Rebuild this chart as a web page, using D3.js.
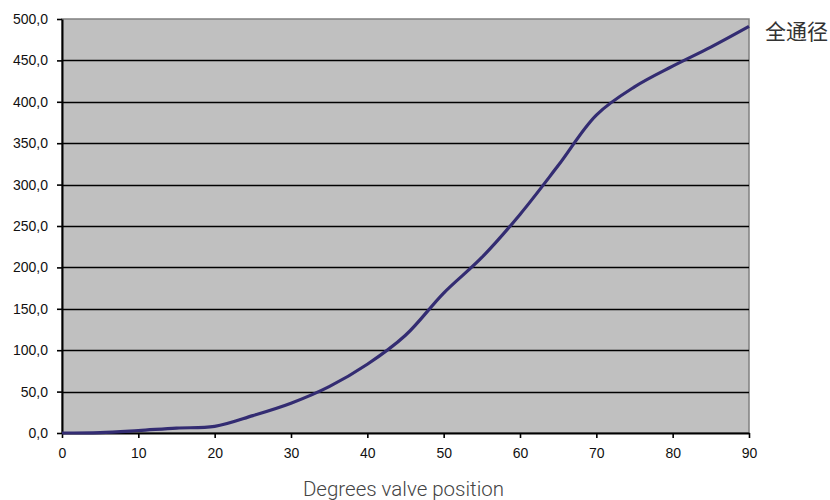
<!DOCTYPE html>
<html>
<head>
<meta charset="utf-8">
<script src="https://cdn.jsdelivr.net/npm/d3@7"></script>
<style>
  body { margin: 0; background: #fff; }
  svg { display: block; }
</style>
</head>
<body>
<div id="chart"></div>
<script>
// valve position (degrees) and flow values
const degrees = [0, 5, 10, 15, 20, 25, 30, 35, 40, 45, 50, 55, 60, 65, 70, 75, 80, 85, 90];
const flow = [0, 0.5, 3, 6, 8, 21, 36, 56, 83, 118, 169, 212, 264, 323, 384, 418, 443, 466, 491];
const xTicks = [0, 10, 20, 30, 40, 50, 60, 70, 80, 90];
const yTicks = [0, 50, 100, 150, 200, 250, 300, 350, 400, 450, 500];
const seriesName = "全通径";
const xTitle = "Degrees valve position";

const width = 830, height = 500;
const margin = {top: 19, right: 81, bottom: 67, left: 62};

const svg = d3.select("#chart")
  .append("svg")
    .attr("width", width)
    .attr("height", height);

const x = d3.scaleLinear()
  .domain([0, 90])
  .range([margin.left, width - margin.right]);

const y = d3.scaleLinear()
  .domain([0, 500])
  .range([height - margin.bottom, margin.top]);

// plot background
svg.append("rect")
  .attr("x", x(0))
  .attr("y", y(500))
  .attr("width", x(90) - x(0))
  .attr("height", y(0) - y(500))
  .attr("fill", "#c0c0c0")
  .attr("stroke", "#808080")
  .attr("stroke-width", 1.5);

// gridlines
svg.append("g")
  .selectAll("line")
  .data(yTicks.filter(d => d > 0 && d < 500))
  .join("line")
    .attr("x1", x(0))
    .attr("x2", x(90))
    .attr("y1", d => Math.round(y(d)) + 0.5)
    .attr("y2", d => Math.round(y(d)) + 0.5)
    .attr("stroke", "#000")
    .attr("stroke-width", 1.6);

const fmt = d => d3.format(".1f")(d).replace(".", ",");

const xAxis = g => g
  .attr("transform", `translate(0, ${y(0)})`)
  .call(d3.axisBottom(x).tickValues(xTicks).tickSize(5).tickSizeOuter(0).tickPadding(10))
  .call(g => g.select(".domain").attr("stroke-width", 2))
  .call(g => g.selectAll(".tick line").attr("stroke-width", 1.6))
  .call(g => g.selectAll("text")
    .attr("font-family", "Liberation Sans, Arial, sans-serif")
    .attr("font-size", 14)
    .attr("fill", "#111"));

const yAxis = g => g
  .attr("transform", `translate(${x(0)}, 0)`)
  .call(d3.axisLeft(y).tickValues(yTicks).tickFormat(fmt).tickSize(5).tickSizeOuter(0).tickPadding(9))
  .call(g => g.select(".domain").attr("stroke-width", 2))
  .call(g => g.selectAll(".tick line").attr("stroke-width", 1.6))
  .call(g => g.selectAll("text")
    .attr("font-family", "Liberation Sans, Arial, sans-serif")
    .attr("font-size", 14)
    .attr("fill", "#111"));

svg.append("g").call(xAxis);
svg.append("g").call(yAxis);

// series line
const line = d3.line()
  .x((d, i) => x(degrees[i]))
  .y(d => y(d))
  .curve(d3.curveCatmullRom.alpha(0.5));

svg.append("path")
  .datum(flow)
  .attr("fill", "none")
  .attr("stroke", "#332c72")
  .attr("stroke-width", 3.2)
  .attr("stroke-linejoin", "round")
  .attr("d", line);

// legend
svg.append("text")
  .attr("x", 765)
  .attr("y", 39)
  .attr("font-family", "Noto Sans CJK SC, sans-serif")
  .attr("font-size", 21)
  .attr("fill", "#333")
  .text(seriesName);

// x axis title
svg.append("text")
  .attr("x", (x(0) + x(90)) / 2 - 2)
  .attr("y", 496)
  .attr("text-anchor", "middle")
  .attr("font-family", "Roboto, Liberation Sans, sans-serif")
  .attr("font-weight", 300)
  .attr("font-size", 20.5)
  .attr("fill", "#444")
  .text(xTitle);
</script>
</body>
</html>
